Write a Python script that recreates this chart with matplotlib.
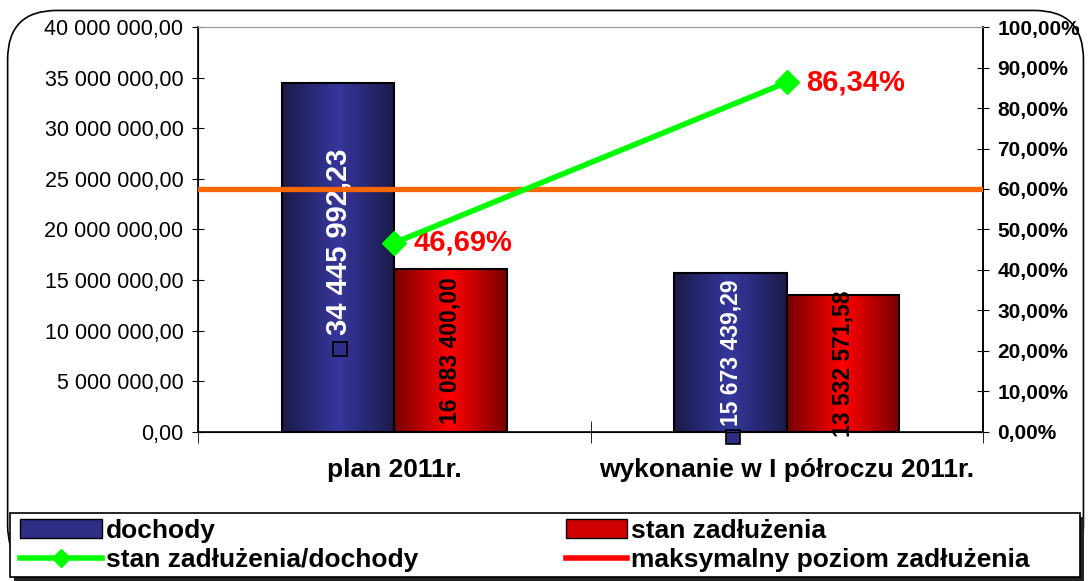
import numpy as np
import matplotlib.pyplot as plt
from matplotlib.colors import LinearSegmentedColormap
from matplotlib.patches import FancyBboxPatch, Patch, Rectangle
from matplotlib.lines import Line2D
from matplotlib.ticker import FuncFormatter, FixedLocator
from matplotlib.transforms import offset_copy

plt.rcParams['font.family'] = ['Liberation Sans', 'DejaVu Sans']

categories = ["plan 2011r.", "wykonanie w I półroczu 2011r."]
dochody = [34445992.23, 15673439.29]
zadluzenie = [16083400.00, 13532571.58]
ratio = [0.4669, 0.8634]
max_level = 0.60
dochody_labels = ["34 445 992,23", "15 673 439,29"]
zadluzenie_labels = ["16 083 400,00", "13 532 571,58"]
ratio_labels = ["46,69%", "86,34%"]

W, H = 1090, 581


def pl_money(v, pos=None):
    return f"{v:,.2f}".replace(",", " ").replace(".", ",")


def pl_pct(v, pos=None):
    return f"{v * 100:.2f}%".replace(".", ",")


def gradient_bars(ax, xs, heights, width, dark, light):
    cmap = LinearSegmentedColormap.from_list("g", [dark, light, dark])
    grad = np.linspace(0, 1, 256).reshape(1, -1)
    bars = ax.bar(xs, heights, width, align="edge", facecolor="none",
                  edgecolor="black", linewidth=1.5, zorder=3)
    for b in bars:
        x0, y0 = b.get_x(), b.get_y()
        im = ax.imshow(grad, cmap=cmap, aspect="auto", zorder=2,
                       extent=[x0, x0 + b.get_width(), y0, y0 + b.get_height()])
        im.set_clip_path(b)
    return bars


fig = plt.figure(figsize=(W / 100, H / 100), dpi=100)

# outer rounded frame
frame = FancyBboxPatch((0.007, 0.012), 0.987, 0.97, transform=fig.transFigure,
                       boxstyle="round,pad=0,rounding_size=0.045",
                       mutation_aspect=W / H, facecolor="white",
                       edgecolor="black", linewidth=1.2, zorder=-10)
fig.patches.append(frame)

ax = fig.add_axes([0.1817, 0.2565, 0.7201, 0.697])
ax.patch.set_alpha(0)
ax2 = ax.twinx()

x = np.arange(len(categories))
w = 0.286
gradient_bars(ax, x - w, dochody, w, "#1a1a4a", "#36369c")
gradient_bars(ax, x, zadluzenie, w, "#780000", "#ff0000")

ax.set_xlim(-0.5, 1.5)
ax.set_ylim(0, 40000000)
ax.yaxis.set_major_locator(FixedLocator(np.arange(0, 40000001, 5000000)))
ax.yaxis.set_major_formatter(FuncFormatter(pl_money))
ax.tick_params(axis="y", direction="inout", length=9, labelsize=15.5, pad=6)

ax.set_xticks(x)
ax.set_xticklabels(categories, fontsize=19, fontweight="bold")
ax.tick_params(axis="x", which="major", length=0, pad=19)
ax.set_xticks([-0.5, 0.5, 1.5], minor=True)
ax.tick_params(axis="x", which="minor", direction="inout", length=16)

for side in ["left", "bottom", "right"]:
    ax.spines[side].set_linewidth(1.2)
ax.spines["top"].set_color("#999999")
ax2.spines["top"].set_color("#999999")
ax2.spines["right"].set_linewidth(1.2)

# value labels inside bars
for i in range(len(categories)):
    size = 21 if i == 0 else 16.5
    shift = 16 if i == 0 else 0
    ax.annotate(dochody_labels[i], (x[i] - w / 2, dochody[i] / 2),
                xytext=(0, shift), textcoords="offset pixels",
                rotation=90, ha="center", va="center", color="white",
                fontsize=size, fontweight="bold", zorder=5)
    gap = 107 if i == 0 else 84
    tr = offset_copy(ax.transData, fig=fig, x=2, y=shift - gap, units="dots")
    ax.plot([x[i] - w / 2], [dochody[i] / 2],
            marker="s", markersize=10, markerfacecolor="#2e2e85",
            markeredgecolor="black", markeredgewidth=1.2, transform=tr,
            zorder=6, clip_on=False)
    ax.annotate(zadluzenie_labels[i], (x[i] + w / 2, zadluzenie[i] / 2),
                rotation=90, ha="center", va="center", color="black",
                fontsize=16.5, fontweight="bold", zorder=5)

# secondary axis: ratio and max level
ax2.set_ylim(0, 1)
ax2.yaxis.set_major_locator(FixedLocator(np.arange(0, 1.001, 0.1)))
ax2.yaxis.set_major_formatter(FuncFormatter(pl_pct))
ax2.tick_params(axis="y", direction="inout", length=9, labelsize=15, pad=6)
for t in ax2.get_yticklabels():
    t.set_fontweight("bold")

ax2.axhline(max_level, color="#ff6600", linewidth=3.8, zorder=4)
ax2.plot(x, ratio, color="#00ff00", linewidth=4, marker="D", markersize=12,
         zorder=5)
for i in range(len(categories)):
    ax2.annotate(ratio_labels[i], (x[i], ratio[i]), xytext=(14, 0),
                 textcoords="offset points", ha="left", va="center",
                 color="#ff0000", fontsize=21, fontweight="bold")

# legend box with shadow
lx, ly, lw, lh = 10 / W, 4 / H, 1070 / W, 64 / H
fig.patches.append(Rectangle((lx + 4 / W, ly - 4 / H), lw, lh,
                             transform=fig.transFigure, facecolor="#222222",
                             edgecolor="none", zorder=1))
fig.patches.append(Rectangle((lx, ly), lw, lh, transform=fig.transFigure,
                             facecolor="white", edgecolor="black",
                             linewidth=1.2, zorder=2))

legend_cols = [
    ([Patch(facecolor="#2e2e85", edgecolor="black"),
      Line2D([], [], color="#00ff00", linewidth=4, marker="D", markersize=9)],
     ["dochody", "stan zadłużenia/dochody"], 20, 3.1),
    ([Patch(facecolor="#d00000", edgecolor="black"),
      Line2D([], [], color="#ff0000", linewidth=4)],
     ["stan zadłużenia", "maksymalny poziom zadłużenia"], 566, 2.3),
]
for hs, ls, px, hl in legend_cols:
    leg = fig.legend(hs, ls, loc="lower left",
                     bbox_to_anchor=(px / W, 9 / H),
                     prop={"size": 19, "weight": "bold"}, frameon=False,
                     handlelength=hl, handletextpad=0.15, labelspacing=0.2,
                     borderaxespad=0.0, borderpad=0.0)
    leg.set_zorder(3)

fig.savefig("out.png", dpi=100)
